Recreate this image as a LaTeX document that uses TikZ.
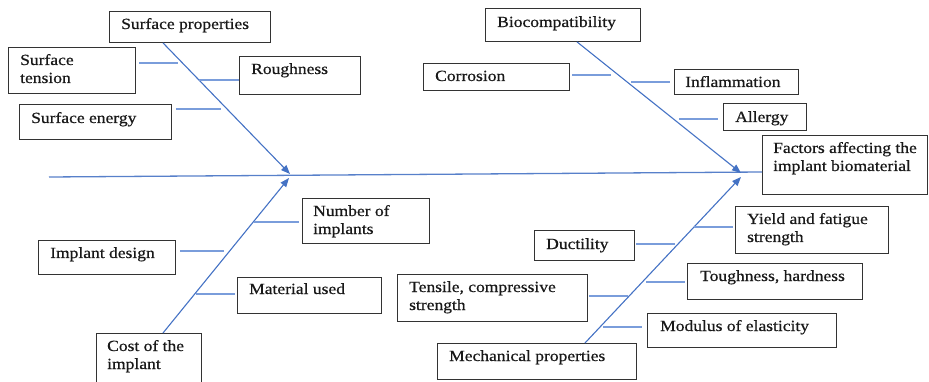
\documentclass[tikz,border=0pt]{standalone}
\usepackage{fontspec}
\setmainfont[FakeStretch=1.13,FakeBold=0.6]{Liberation Serif}
\usetikzlibrary{arrows.meta}
\definecolor{arr}{HTML}{4472C4}
\definecolor{brc}{HTML}{7A9DDB}
\definecolor{edge}{HTML}{333333}
\begin{document}
\begin{tikzpicture}[x=1pt,y=-1pt,
  box/.style={draw=edge, line width=0.9pt, inner sep=0pt, anchor=north west},
  txt/.style={inner sep=0pt, anchor=base west, font=\fontsize{15.5}{18}\selectfont, text=black!90},
  arrowln/.style={draw=arr, line width=1.1pt, -{Triangle[length=9pt,width=7pt]}},
  br/.style={draw=brc, line width=1.1pt},
  spine/.style={draw=arr!90, line width=1.3pt}]
\useasboundingbox (0,0) rectangle (929,382);

% boxes
\node[box, minimum width=161, minimum height=31] (sp) at (109,11) {};
\node[box, minimum width=127, minimum height=46] (st) at (8,47) {};
\node[box, minimum width=121, minimum height=38] (rg) at (239,56) {};
\node[box, minimum width=152, minimum height=35] (se) at (19,104) {};
\node[box, minimum width=155, minimum height=33] (bc) at (485,8) {};
\node[box, minimum width=146, minimum height=27] (co) at (423,63) {};
\node[box, minimum width=124, minimum height=25] (inf) at (674,69) {};
\node[box, minimum width=83, minimum height=27] (al) at (723,103) {};
\node[box, minimum width=165, minimum height=59] (fa) at (762,135) {};
\node[box, minimum width=127, minimum height=45] (ni) at (302,198) {};
\node[box, minimum width=137, minimum height=34] (id) at (38,240) {};
\node[box, minimum width=144, minimum height=36] (mu) at (237,277) {};
\node[box, minimum width=105, minimum height=51] (ct) at (96,333) {};
\node[box, minimum width=153, minimum height=47] (yf) at (735,206) {};
\node[box, minimum width=100, minimum height=30] (du) at (534,230) {};
\node[box, minimum width=175, minimum height=36] (th) at (687,263) {};
\node[box, minimum width=190, minimum height=47] (ts) at (397,274) {};
\node[box, minimum width=189, minimum height=34] (me) at (647,313) {};
\node[box, minimum width=199, minimum height=36] (mp) at (437,343) {};

% texts
\node[txt] (tsp) at (121,29) {Surface properties};
\node[txt] (tst) at (20,65) {\parbox[t]{110pt}{Surface\\tension}};
\node[txt] (trg) at (251,74) {Roughness};
\node[txt] (tse) at (31,123) {Surface energy};
\node[txt] (tbc) at (497,27) {Biocompatibility};
\node[txt] (tco) at (435,81) {Corrosion};
\node[txt] (tinf) at (685,87) {Inflammation};
\node[txt] (tal) at (735,122) {Allergy};
\node[txt] (tfa) at (773,153) {\parbox[t]{150pt}{Factors affecting the\\implant biomaterial}};
\node[txt] (tni) at (313,216) {\parbox[t]{110pt}{Number of\\implants}};
\node[txt] (tid) at (50,258) {Implant design};
\node[txt] (tmu) at (249,294) {Material used};
\node[txt] (tct) at (107,351) {\parbox[t]{90pt}{Cost of the\\implant}};
\node[txt] (tyf) at (747,224) {\parbox[t]{140pt}{Yield and fatigue\\strength}};
\node[txt] (tdu) at (546,249) {Ductility};
\node[txt] (tth) at (700,281) {Toughness, hardness};
\node[txt] (tts) at (409,292) {\parbox[t]{170pt}{Tensile, compressive\\strength}};
\node[txt] (tme) at (660,331) {Modulus of elasticity};
\node[txt] (tmp) at (449,361) {Mechanical properties};

% spine
\coordinate (L) at (49,177);
\coordinate (R) at (762,172);
\draw[spine] (L) -- (R);

% main arrows
\coordinate (j1) at (290,174);
\coordinate (j2) at (741,173);
\coordinate (j3) at (289,178);
\coordinate (j4) at (741,177);
\draw[arrowln] ([xshift=54pt]sp.south west) -- (j1);
\draw[arrowln] ([xshift=92pt]bc.south west) -- (j2);
\draw[arrowln] ([xshift=67pt]ct.north west) -- (j3);
\draw[arrowln] ([xshift=148pt]mp.north west) -- (j4);

% branch lines
\draw[br] (139,63) -- (178,63);
\draw[br] (199,80) -- (239,80);
\draw[br] (176,109) -- (221,109);
\draw[br] (572,75) -- (611,75);
\draw[br] (631,82) -- (670,82);
\draw[br] (679,119) -- (718,119);
\draw[br] (254,222) -- (299,222);
\draw[br] (180,251) -- (224,251);
\draw[br] (196,294) -- (235,294);
\draw[br] (694,227) -- (733,227);
\draw[br] (636,244) -- (675,244);
\draw[br] (646,282) -- (685,282);
\draw[br] (589,296) -- (628,296);
\draw[br] (603,327) -- (642,327);
\end{tikzpicture}
\end{document}
